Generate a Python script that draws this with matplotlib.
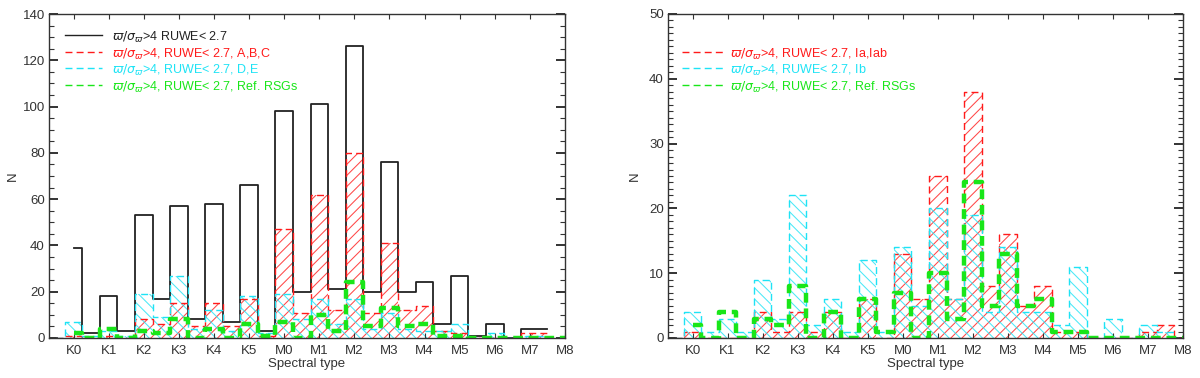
import numpy as np
import matplotlib
matplotlib.use('Agg')
import matplotlib.pyplot as plt
from matplotlib.ticker import MultipleLocator
from matplotlib.colors import to_rgba

plt.rcParams['font.family'] = ['Liberation Sans', 'DejaVu Sans']
plt.rcParams['hatch.linewidth'] = 0.75

# ---------------- data ----------------
spectral_labels = ['K0', 'K1', 'K2', 'K3', 'K4', 'K5', 'M0', 'M1', 'M2',
                   'M3', 'M4', 'M5', 'M6', 'M7', 'M8']
# half-subtype bin centres: -0.5, 0, 0.5, ..., 14
bin_pos = np.arange(-0.5, 14.01, 0.5)

# Left panel (bins K0 ... M7.5)
all_ruwe = [39, 2, 18, 3, 53, 17, 57, 8, 58, 7, 66, 3, 98, 20,
            101, 21, 126, 20, 76, 20, 24, 6, 27, 1, 6, 0, 4, 4]
# bins K-0.5 ... M7.5
lum_abc = [0, 1, 0, 1, 0, 8, 6, 15, 5, 15, 5, 17, 1, 47, 11,
           62, 12, 80, 11, 41, 12, 14, 3, 2, 0, 0, 0, 2, 2]
lum_de = [0, 7, 1, 3, 1, 19, 9, 27, 4, 12, 3, 18, 2, 19, 8,
          17, 6, 17, 4, 11, 4, 3, 3, 6, 0, 2, 0, 1, 1]

# Reference RSGs (bins K0 ... M8)
ref_rsg = [2, 0, 4, 0, 3, 2, 8, 0, 4, 0, 6, 1, 7, 0, 10,
           3, 24, 5, 13, 5, 6, 1, 1, 0, 0, 0, 0, 0, 0]

# Right panel (bins K-0.5 ... M8)
lum_ia = [0, 1, 0, 0, 0, 4, 1, 4, 1, 4, 0, 6, 0, 13, 6,
          25, 6, 38, 8, 16, 5, 8, 1, 1, 0, 0, 0, 1, 2, 0]
lum_ib = [0, 4, 1, 3, 1, 9, 3, 22, 2, 6, 1, 12, 1, 14, 5,
          20, 6, 19, 4, 14, 4, 4, 2, 11, 0, 3, 0, 2, 1, 0]

lab_all = r'$\varpi/\sigma_{\varpi}$>4 RUWE< 2.7'
lab_abc = r'$\varpi/\sigma_{\varpi}$>4, RUWE< 2.7, A,B,C'
lab_de = r'$\varpi/\sigma_{\varpi}$>4, RUWE< 2.7, D,E'
lab_ref = r'$\varpi/\sigma_{\varpi}$>4, RUWE< 2.7, Ref. RSGs'
lab_ia = r'$\varpi/\sigma_{\varpi}$>4, RUWE< 2.7, Ia,Iab'
lab_ib = r'$\varpi/\sigma_{\varpi}$>4, RUWE< 2.7, Ib'

# ---------------- style ----------------
RED = '#ff1a1a'
CYAN = '#1ee3f5'
GREEN = '#19e619'
BLACK = '#222222'
DASH = (0, (5, 3))
GDASH = (0, (2.2, 1.3))

fig = plt.figure(figsize=(12, 3.78), dpi=100)
axL = fig.add_axes([49 / 1200, 40 / 378, 516 / 1200, 324 / 378])
axR = fig.add_axes([668 / 1200, 40 / 378, 515 / 1200, 324 / 378])


def hatched(ax, x, y, color, hatch):
    ax.fill_between(x, y, 0, step='mid', facecolor='none',
                    edgecolor=to_rgba(color, 0.8), hatch=hatch, linewidth=0)
    ax.step(x, y, where='mid', color=color, ls=DASH, lw=1.0)


def green(ax, x, y):
    ax.step(x, y, where='mid', color=GREEN, ls=GDASH, lw=3.2)


def legend(ax, rows, x0, x1, x2, ys):
    for (lab, col, tcol, ls), yy in zip(rows, ys):
        ax.plot([x0, x1], [yy, yy], transform=ax.transAxes, color=col,
                ls=ls, lw=1.0, clip_on=False)
        ax.text(x2, yy, lab, transform=ax.transAxes, color=tcol,
                va='center_baseline', ha='left', fontsize=9)


def style(ax, ymax, ymaj, ymin):
    ax.set_xlim(-0.7, 14)
    ax.set_ylim(0, ymax)
    ax.set_xticks(range(len(spectral_labels)))
    ax.set_xticklabels(spectral_labels)
    ax.yaxis.set_major_locator(MultipleLocator(ymaj))
    ax.yaxis.set_minor_locator(MultipleLocator(ymin))
    ax.tick_params(axis='both', which='both', direction='in', top=True,
                   right=True, colors='#333333', labelsize=9.5)
    ax.xaxis.set_tick_params(which='major', length=3.6, width=0.8, pad=5)
    ax.yaxis.set_tick_params(which='major', length=6.5, width=1.4, pad=3)
    ax.yaxis.set_tick_params(which='minor', length=3.4, width=0.8)
    for s in ax.spines.values():
        s.set_color('#333333')
        s.set_linewidth(1.0)
    ax.set_xlabel('Spectral type', fontsize=9.5, color='#333333', labelpad=1)


# ---------------- left panel ----------------
axL.step(bin_pos[1:29], all_ruwe, where='mid', color=BLACK, lw=1.3)
hatched(axL, bin_pos[0:29], lum_abc, RED, '///')
hatched(axL, bin_pos[0:29], lum_de, CYAN, '\\\\\\')
green(axL, bin_pos[1:], ref_rsg)
style(axL, 140, 20, 5)
axL.set_ylabel('N', fontsize=9.5, color='#333333', labelpad=3)
legend(axL,
       [(lab_all, BLACK, BLACK, '-'), (lab_abc, RED, RED, DASH),
        (lab_de, CYAN, CYAN, DASH), (lab_ref, GREEN, GREEN, DASH)],
       0.031, 0.103, 0.122, [0.935, 0.883, 0.833, 0.781])

# ---------------- right panel ----------------
hatched(axR, bin_pos, lum_ia, RED, '///')
hatched(axR, bin_pos, lum_ib, CYAN, '\\\\\\')
green(axR, bin_pos[1:], ref_rsg)
style(axR, 50, 10, 1)
axR.set_ylabel('N', fontsize=9.5, color='#333333', labelpad=6)
legend(axR,
       [(lab_ia, RED, RED, DASH), (lab_ib, CYAN, CYAN, DASH),
        (lab_ref, GREEN, GREEN, DASH)],
       0.027, 0.107, 0.120, [0.883, 0.833, 0.781])

fig.savefig('out.png', dpi=100)
